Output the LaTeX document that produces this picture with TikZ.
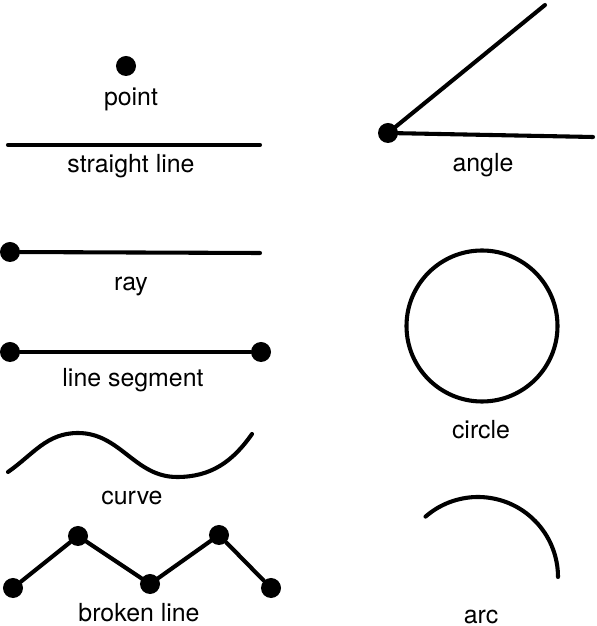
\documentclass[tikz,border=0pt]{standalone}
\usepackage{fontspec}
\setmainfont{TeX Gyre Heros}
\usepackage{tikz}
\usetikzlibrary{arrows.meta}
\usetikzlibrary{positioning}

\begin{document}
\begin{tikzpicture}[x=0.025cm,y=0.025cm]
			\tikzset{dot/.style = {shape=circle,fill=black,minimum size=0.5cm,
			inner sep = 0pt}}
			\tikzset{edge/.style = {line width=2.9pt,line cap=round,line join=round}}
			\tikzset{lbl/.style = {anchor=base,inner sep=0pt,
					font=\fontsize{17.7}{20}\selectfont}}
			
			\useasboundingbox (0,0) rectangle (597,626);
			
			% point
			\node[dot] (p) at (126,560) {};
			\node[lbl] (lp) at (131,520) {point};
			
			% straight line
			\coordinate (s1) at (8,481);
			\coordinate (s2) at (260,481);
			\draw[edge] (s1) -- (s2);
			\node[lbl] (ls) at (131,453) {straight line};
			
			% ray
			\node[dot] (r1) at (10,374) {};
			\coordinate (r2) at (260,373);
			\draw[edge] (r1) -- (r2);
			\node[lbl] (lr) at (131,335) {ray};
			
			% line segment
			\node[dot] (g1) at (10,274) {};
			\node[dot] (g2) at (261,274) {};
			\draw[edge] (g1) -- (g2);
			\node[lbl] (lg) at (133,239) {line segment};
			
			% curve
			\coordinate (c1) at (8,154);
			\coordinate (c2) at (78,193);
			\coordinate (c3) at (177,149);
			\coordinate (c4) at (252,192);
			\draw[edge] (c1) to[out=35,in=180] (c2) to[out=0,in=180] (c3)
				to[out=0,in=235] (c4);
			\node[lbl] (lc) at (132,121) {curve};
			
			% broken line
			\node[dot] (b1) at (13,38) {};
			\node[dot] (b2) at (78,90) {};
			\node[dot] (b3) at (150,42) {};
			\node[dot] (b4) at (219,91) {};
			\node[dot] (b5) at (271,38) {};
			\draw[edge] (b1) -- (b2) -- (b3) -- (b4) -- (b5);
			\node[lbl] (lb) at (139,4) {broken line};
			
			% angle
			\node[dot] (a) at (388,493) {};
			\coordinate (a1) at (545,621);
			\coordinate (a2) at (593,489);
			\draw[edge] (a1) -- (a.center) -- (a2);
			\node[lbl] (la) at (483,454) {angle};
			
			% circle
			\coordinate (o) at (482,300);
			\draw[edge] (o) circle (75.5);
			\node[lbl] (lo) at (481,187) {circle};
			
			% arc
			\coordinate (k) at (478,49);
			\draw[edge] ([shift={(131:80)}]k) arc (131:0:80);
			\node[lbl] (lk) at (481,3) {arc};
			
\end{tikzpicture}
\end{document}
